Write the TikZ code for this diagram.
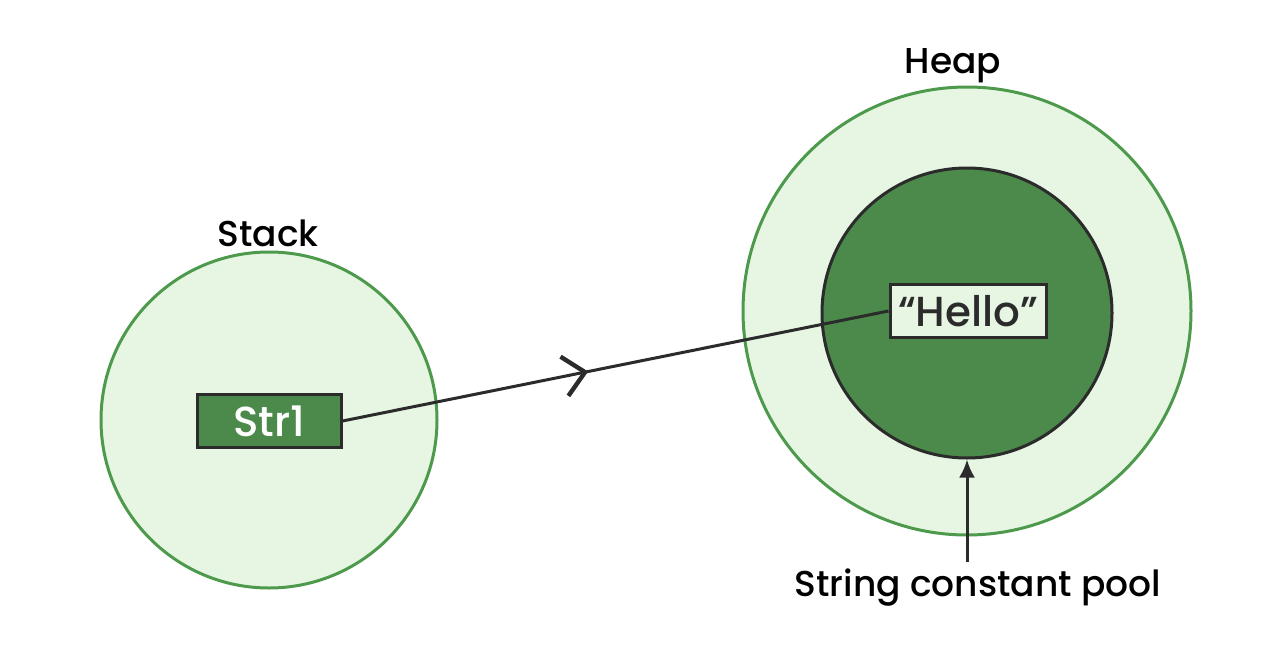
\documentclass[tikz,border=0pt]{standalone}
\usepackage{fontspec}
\setmainfont{Poppins}[BoldFont={* Medium}]
\usetikzlibrary{arrows.meta,positioning,decorations.markings}
\definecolor{leaf}{HTML}{4D9A4D}
\definecolor{moss}{HTML}{4B8A4B}
\definecolor{mint}{HTML}{E6F6E3}
\definecolor{ink}{HTML}{2B2B2B}

\begin{document}
\begin{tikzpicture}[x=0.5pt,y=-0.5pt,
              area/.style={circle,draw=leaf,fill=mint,line width=1.5pt,inner sep=0},
              pool/.style={circle,draw=ink,fill=moss,line width=1.5pt,inner sep=0},
              var/.style={draw=ink,line width=1.5pt,minimum height=26.5pt,inner sep=0,font=\bfseries\fontsize{21}{24}\selectfont},
              lbl/.style={font=\bfseries\fontsize{18}{21}\selectfont,text=black}]
              \useasboundingbox (0,0) rectangle (1280,669);
              \node[area,minimum size=168pt] (stack) at (269,420) {};
              \node[area,minimum size=224pt] (heap) at (967,311) {};
              \node[pool,minimum size=145pt] (spool) at (967,313) {};
              \node[var,fill=moss,text=white,minimum width=72pt] (str) at (269,421) {Str1};
              \node[var,fill=mint,text=ink,minimum width=78pt] (hello) at (968,311) {“Hello”};
              \node[lbl] (stacklbl) at (268,233) {Stack};
              \node[lbl] (heaplbl) at (953,66) {Heap};
              \node[lbl] (poollbl) at (978,588) {String constant pool};
              \draw[ink,line width=1.5pt,
                    postaction={decorate},
                    decoration={markings,mark=at position 0.45 with
                      {\arrow{Straight Barb[length=10.5pt,width=20pt,line width=2.2pt]}}}]
                    (str.east) -- (hello.west);
              \draw[ink,line width=1.5pt,-{Latex[length=9pt,width=8pt]}]
                    (poollbl.north -| spool.south) -- (spool.south);
            \end{tikzpicture}
\end{document}
